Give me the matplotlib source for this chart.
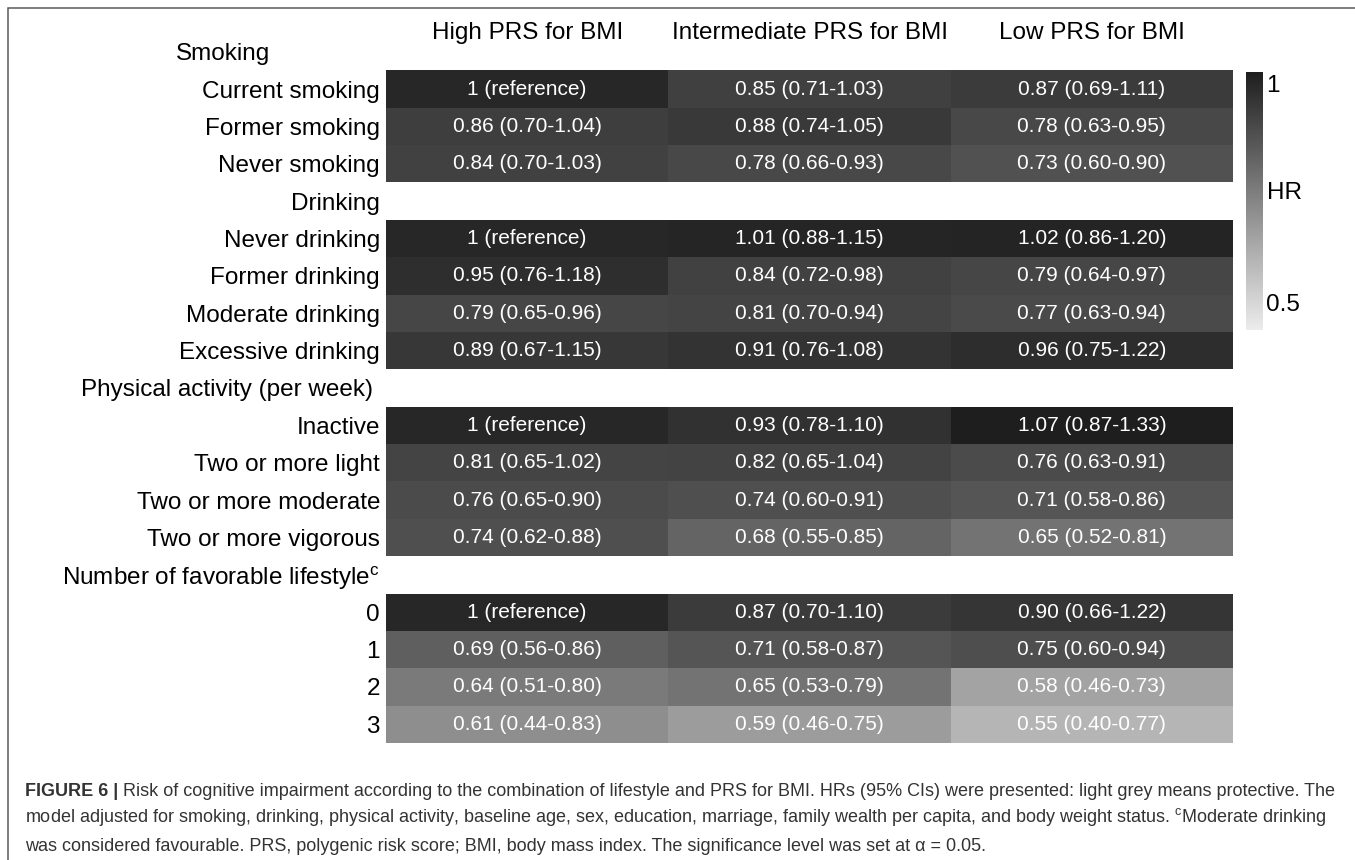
import numpy as np
import matplotlib
matplotlib.use("Agg")
from matplotlib import pyplot as plt
from matplotlib import colors as mcolors
from matplotlib import transforms as mtransforms
from matplotlib.patches import Rectangle

plt.rcParams['font.family'] = ['Liberation Sans', 'DejaVu Sans']
plt.rcParams['mathtext.fontset'] = 'custom'
plt.rcParams['mathtext.rm'] = 'Liberation Sans'
plt.rcParams['mathtext.it'] = 'Liberation Sans:italic'

# ---- data ----
groups = ["Smoking", "Drinking", "Physical activity (per week)",
          "Number of favorable lifestyle$^{\\mathrm{c}}$"]
group_items = [
    ["Current smoking", "Former smoking", "Never smoking"],
    ["Never drinking", "Former drinking", "Moderate drinking", "Excessive drinking"],
    ["Inactive", "Two or more light", "Two or more moderate", "Two or more vigorous"],
    ["0", "1", "2", "3"],
]
columns = ["High PRS for BMI", "Intermediate PRS for BMI", "Low PRS for BMI"]

# HR, lower and upper 95% CI per column (None = reference)
hr_high = [1, 0.86, 0.84, 1, 0.95, 0.79, 0.89, 1, 0.81, 0.76, 0.74, 1, 0.69, 0.64, 0.61]
lo_high = [None, 0.70, 0.70, None, 0.76, 0.65, 0.67, None, 0.65, 0.65, 0.62, None, 0.56, 0.51, 0.44]
up_high = [None, 1.04, 1.03, None, 1.18, 0.96, 1.15, None, 1.02, 0.90, 0.88, None, 0.86, 0.80, 0.83]

hr_mid = [0.85, 0.88, 0.78, 1.01, 0.84, 0.81, 0.91, 0.93, 0.82, 0.74, 0.68, 0.87, 0.71, 0.65, 0.59]
lo_mid = [0.71, 0.74, 0.66, 0.88, 0.72, 0.70, 0.76, 0.78, 0.65, 0.60, 0.55, 0.70, 0.58, 0.53, 0.46]
up_mid = [1.03, 1.05, 0.93, 1.15, 0.98, 0.94, 1.08, 1.10, 1.04, 0.91, 0.85, 1.10, 0.87, 0.79, 0.75]

hr_low = [0.87, 0.78, 0.73, 1.02, 0.79, 0.77, 0.96, 1.07, 0.76, 0.71, 0.65, 0.90, 0.75, 0.58, 0.55]
lo_low = [0.69, 0.63, 0.60, 0.86, 0.64, 0.63, 0.75, 0.87, 0.63, 0.58, 0.52, 0.66, 0.60, 0.46, 0.40]
up_low = [1.11, 0.95, 0.90, 1.20, 0.97, 0.94, 1.22, 1.33, 0.91, 0.86, 0.81, 1.22, 0.94, 0.73, 0.77]

caption1 = ("Risk of cognitive impairment according to the combination of lifestyle and PRS for BMI. "
            "HRs (95% CIs) were presented: light grey means protective. The")
caption2 = ("model adjusted for smoking, drinking, physical activity, baseline age, sex, education, marriage, "
            "family wealth per capita, and body weight status. $^{\\mathrm{c}}$Moderate drinking")
caption3 = ("was considered favourable. PRS, polygenic risk score; BMI, body mass index. "
            "The significance level was set at \u03b1 = 0.05.")

# ---- build the table (header rows stay empty) ----
row_labels = []
is_header = []
for g, items in zip(groups, group_items):
    row_labels.append(g)
    is_header.append(True)
    row_labels += items
    is_header += [False] * len(items)

col_data = [(hr_high, lo_high, up_high), (hr_mid, lo_mid, up_mid), (hr_low, lo_low, up_low)]
n_rows = len(row_labels)
values = np.full((n_rows, len(columns)), np.nan)
cell_text = [[""] * len(columns) for _ in range(n_rows)]
for j, (hr, lo, up) in enumerate(col_data):
    k = 0
    for i in range(n_rows):
        if is_header[i]:
            continue
        values[i, j] = hr[k]
        if lo[k] is None:
            cell_text[i][j] = "%g (reference)" % hr[k]
        else:
            cell_text[i][j] = "%.2f (%.2f-%.2f)" % (hr[k], lo[k], up[k])
        k += 1

# grey scale used in the figure is not linear in HR
hr_pts = [0.47, 0.50, 0.55, 0.58, 0.65, 0.71, 0.78, 0.85, 0.90, 1.00, 1.07]
pos_pts = [0.0, 0.105, 0.267, 0.354, 0.587, 0.733, 0.796, 0.835, 0.888, 0.955, 1.0]
norm = mcolors.FuncNorm((lambda x: np.interp(x, hr_pts, pos_pts),
                         lambda y: np.interp(y, pos_pts, hr_pts)), vmin=0.47, vmax=1.07)
cmap = mcolors.LinearSegmentedColormap.from_list("hr_grey", ["#ececec", "#1e1e1e"])

W, H = 1355, 860
fig = plt.figure(figsize=(W / 100, H / 100), dpi=100)

# caption / frame layer
cap_ax = fig.add_axes([0, 0, 1, 1])
cap_ax.set_xlim(0, W)
cap_ax.set_ylim(H, 0)
cap_ax.axis("off")
fig.add_artist(Rectangle((8 / W, -0.1), 1.2, 1 - 8 / H + 0.1, transform=fig.transFigure,
                         fill=False, edgecolor="#5a5a5a", lw=1.1))

cap_color = "#333333"
cap_fs = 13
t1 = cap_ax.text(25, 800, "FIGURE 6 |", fontsize=cap_fs, weight="bold", color=cap_color, va="bottom")
cap_ax.annotate(" " + caption1, xy=(1, 0), xycoords=t1, va="bottom", fontsize=cap_fs, color=cap_color)
cap_ax.text(25, 828, caption2, fontsize=cap_fs, color=cap_color, va="bottom")
cap_ax.text(25, 855, caption3, fontsize=cap_fs, color=cap_color, va="bottom")

# heatmap
left, right, top, bottom = 386, 1233, 33, 743
ax = fig.add_axes([left / W, 1 - bottom / H, (right - left) / W, (bottom - top) / H])
mesh = ax.pcolormesh(np.arange(len(columns) + 1), np.arange(n_rows + 1),
                     np.ma.masked_invalid(values), cmap=cmap, norm=norm)
ax.set_xlim(0, len(columns))
ax.set_ylim(n_rows, 0)
for s in ax.spines.values():
    s.set_visible(False)
ax.set_xticks([])
ax.set_yticks(np.arange(n_rows) + 0.5)
ax.set_yticklabels(row_labels, fontsize=17.5, color="black")
ax.tick_params(axis="y", length=0, pad=4.3)

# header labels are not exactly aligned in the figure
shifts = {"Smoking": -110, "Physical activity (per week)": -7}
for lab in ax.get_yticklabels():
    dx = shifts.get(lab.get_text(), 0)
    if dx:
        lab.set_transform(lab.get_transform() + mtransforms.ScaledTranslation(dx / 100, 0, fig.dpi_scale_trans))

for i in range(n_rows):
    for j in range(len(columns)):
        if cell_text[i][j]:
            ax.text(j + 0.5, i + 0.5, cell_text[i][j], ha="center", va="center",
                    fontsize=15, color="white")

for j, c in enumerate(columns):
    ax.text(j + 0.5, 0.0, c, ha="center", va="center", fontsize=17.5, color="black")

# colour bar
cax = fig.add_axes([1246 / W, 1 - 330 / H, 17 / W, 258 / H])
cb = fig.colorbar(mesh, cax=cax)
cb.outline.set_visible(False)
cb.set_ticks([0.5, 1])
cb.set_ticklabels(["0.5", "1"])
cax.tick_params(length=0, pad=2, labelsize=17.5)
cax.text(1.24, 0.53, "HR", transform=cax.transAxes, ha="left", va="center", fontsize=17.5)

fig.savefig("out.png", dpi=100)
